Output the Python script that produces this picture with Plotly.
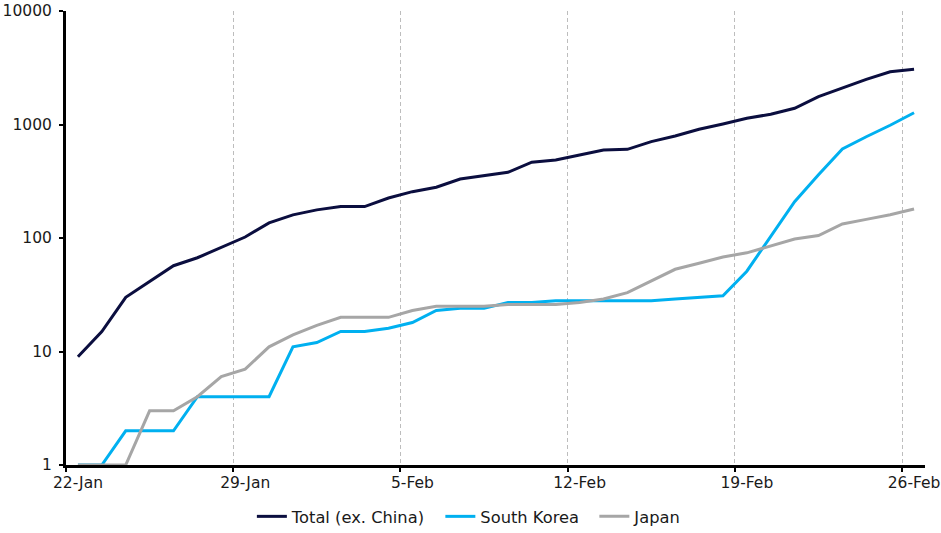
import pandas as pd
import plotly.graph_objects as go

dates = pd.date_range("2020-01-22", "2020-02-26", freq="D")

total = [9, 15, 30, 41, 57, 67, 83, 102, 136, 160, 177, 189, 189, 225, 256, 280,
         331, 352, 379, 465, 486, 538, 596, 604, 706, 792, 907, 1010, 1135, 1231,
         1390, 1758, 2110, 2500, 2918, 3064]
south_korea = [1, 1, 2, 2, 2, 4, 4, 4, 4, 11, 12, 15, 15, 16, 18, 23,
               24, 24, 27, 27, 28, 28, 28, 28, 28, 29, 30, 31, 51, 103,
               209, 360, 608, 780, 985, 1270]
japan = [1, 1, 1, 3, 3, 4, 6, 7, 11, 14, 17, 20, 20, 20, 23, 25,
         25, 25, 26, 26, 26, 27, 29, 33, 42, 53, 60, 68, 74, 85,
         98, 105, 133, 146, 160, 180]

series_names = ["Total (ex. China)", "South Korea", "Japan"]
colors = ["#0b0e3f", "#00b0f0", "#a6a6a6"]

y_ticks = [1, 10, 100, 1000, 10000]
y_ticktext = ["1", "10", "100", "1000", "10000"]
label_dates = pd.to_datetime(["2020-01-22", "2020-01-29", "2020-02-05",
                              "2020-02-12", "2020-02-19", "2020-02-26"])
label_text = ["22-Jan", "29-Jan", "5-Feb", "12-Feb", "19-Feb", "26-Feb"]

x = dates + pd.Timedelta(hours=12)

fig = go.Figure()
for i, (name, vals, col) in enumerate(zip(series_names, [total, south_korea, japan], colors)):
    label = name + ("\u00a0\u00a0" if i < len(series_names) - 1 else "")
    fig.add_trace(go.Scatter(x=x, y=vals, mode="lines", name=label,
                             line=dict(color=col, width=3)))

font = dict(family="DejaVu Sans, Verdana, sans-serif", size=15.5, color="#1a1a1a")
legend_font = dict(family="DejaVu Sans, Verdana, sans-serif", size=16.3, color="#1a1a1a")

fig.update_layout(
    width=941, height=533,
    margin=dict(l=66, r=16, t=11, b=68, autoexpand=False),
    plot_bgcolor="white", paper_bgcolor="white",
    font=font,
    showlegend=True,
    legend=dict(orientation="h", x=0.469, xanchor="center", y=-0.114, yanchor="middle",
                itemwidth=30, font=legend_font, traceorder="normal",
                bgcolor="rgba(0,0,0,0)"),
    xaxis=dict(
        type="date", automargin=False,
        range=[pd.Timestamp("2020-01-22"), pd.Timestamp("2020-02-26 23:00")],
        tickmode="array",
        tickvals=label_dates + pd.Timedelta(hours=12),
        ticktext=label_text,
        ticks="", showgrid=False,
        showline=True, linecolor="black", linewidth=3,
        tickfont=font, ticklabelstandoff=1,
        minor=dict(tickmode="array", tickvals=list(label_dates),
                   ticks="outside", ticklen=4, tickwidth=2, tickcolor="black",
                   showgrid=True, gridcolor="#bdbdbd", gridwidth=1, griddash="4px,3px"),
        zeroline=False, fixedrange=True,
    ),
    yaxis=dict(
        type="log", range=[0, 4], automargin=False,
        tickmode="array", tickvals=y_ticks, ticktext=y_ticktext,
        ticks="outside", ticklen=4, tickwidth=2, tickcolor="black",
        showgrid=False, showline=True, linecolor="black", linewidth=3,
        tickfont=font, ticklabelstandoff=4, zeroline=False, fixedrange=True,
    ),
)

fig.write_html("out.html")
